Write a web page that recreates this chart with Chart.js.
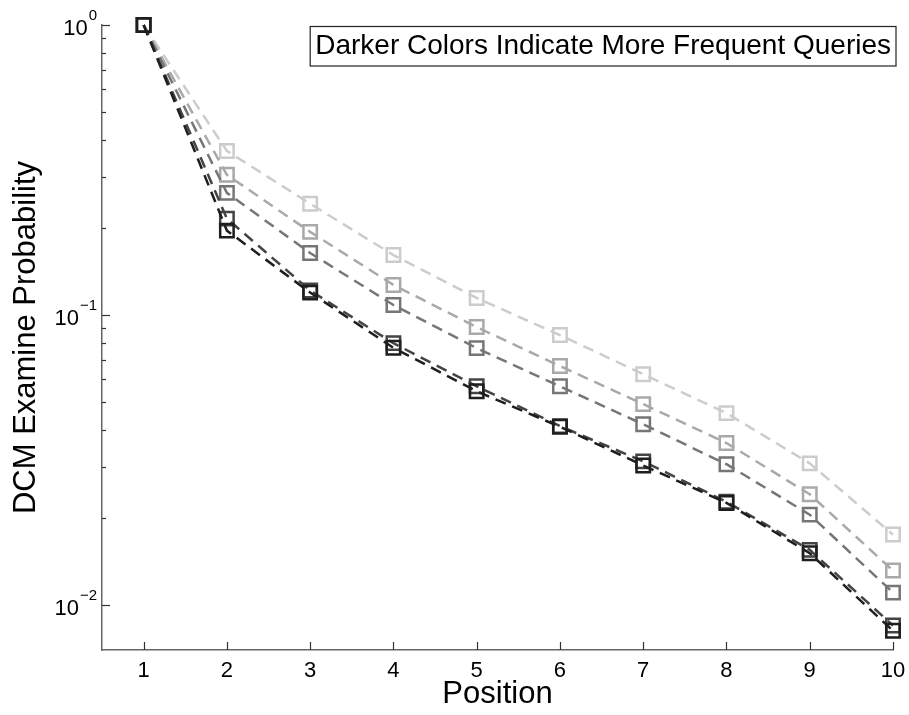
<!DOCTYPE html>
<html>
<head>
<meta charset="utf-8">
<script src="https://cdn.jsdelivr.net/npm/chart.js@4.4.1/dist/chart.umd.min.js"></script>
<style>
  html, body { margin: 0; padding: 0; background: #fff; }
  #wrap { width: 909px; height: 715px; }
</style>
</head>
<body>
<div id="wrap"><canvas id="dcmChart" width="909" height="715"></canvas></div>
<script>
// positions on the x axis
const positions = [1, 2, 3, 4, 5, 6, 7, 8, 9, 10];

// examine probabilities, lightest (rare queries) to darkest (frequent queries)
const lightest = [1, 0.368, 0.242, 0.161, 0.1145, 0.0853, 0.0625, 0.0459, 0.0308, 0.0175];
const light    = [1, 0.3045, 0.1935, 0.127, 0.0909, 0.0667, 0.0493, 0.0362, 0.0241, 0.01315];
const middle   = [1, 0.2638, 0.1637, 0.1083, 0.0769, 0.0568, 0.042, 0.0306, 0.0205, 0.01104];
const dark     = [1, 0.215, 0.1215, 0.0800, 0.0568, 0.0414, 0.0313, 0.0227, 0.0155, 0.0085];
const darkest  = [1, 0.1955, 0.1195, 0.0771, 0.0546, 0.0412, 0.0303, 0.0225, 0.0151, 0.00815];

const seriesColors = ['#1e1e1e', '#444444', '#767676', '#a9a9a9', '#cccccc'];
const seriesValues = [darkest, dark, middle, light, lightest];

// y tick decades (10^exp)
const yTickExps = [0, -1, -2];
const noteText = 'Darker Colors Indicate More Frequent Queries';

const fontFam = '"Liberation Sans", Arial, Helvetica, sans-serif';

const datasets = seriesValues.map((vals, i) => ({
    data: vals.map((v, j) => ({ x: positions[j], y: v })),
    borderColor: seriesColors[i],
    backgroundColor: 'rgba(0,0,0,0)',
    borderWidth: 2.5,
    borderDash: [11, 7],
    pointStyle: 'rect',
    pointRadius: 9.5,
    pointBorderWidth: 2.5,
    pointBorderColor: seriesColors[i],
    pointBackgroundColor: 'rgba(0,0,0,0)',
    fill: false,
    clip: false,
    tension: 0
}));

const axisDecor = {
    id: 'axisDecor',
    afterDraw(chart) {
        const ctx = chart.ctx;
        const xs = chart.scales.x;
        const ys = chart.scales.y;
        const area = chart.chartArea;
        ctx.save();
        ctx.strokeStyle = '#333';
        ctx.lineWidth = 1.2;
        // x ticks, pointing inward
        positions.forEach(p => {
            const px = Math.round(xs.getPixelForValue(p)) + 0.5;
            ctx.beginPath();
            ctx.moveTo(px, area.bottom);
            ctx.lineTo(px, area.bottom - 8);
            ctx.stroke();
        });
        // y ticks, major and minor
        yTickExps.forEach(e => {
            const base = Math.pow(10, e);
            for (let m = 1; m <= 9; m++) {
                const v = base * m;
                if (v > ys.max + 1e-9 || v < ys.min) continue;
                const py = Math.round(ys.getPixelForValue(v)) + 0.5;
                ctx.beginPath();
                ctx.moveTo(area.left, py);
                ctx.lineTo(area.left + (m === 1 ? 8 : 4), py);
                ctx.stroke();
            }
        });
        // y tick labels as 10 with superscript exponent
        ctx.fillStyle = '#000';
        ctx.textBaseline = 'alphabetic';
        yTickExps.forEach(e => {
            const py = ys.getPixelForValue(Math.pow(10, e));
            const sup = e === 0 ? '0' : '\u2212' + Math.abs(e);
            ctx.font = '15px ' + fontFam;
            const supW = ctx.measureText(sup).width;
            const right = area.left - 5;
            ctx.textAlign = 'left';
            ctx.fillText(sup, right - supW, py - 5);
            ctx.font = '22px ' + fontFam;
            ctx.textAlign = 'right';
            ctx.fillText('10', right - supW - 1, py + 10);
        });
        // note box
        ctx.font = '28px ' + fontFam;
        const tw = ctx.measureText(noteText).width;
        const bx = area.right + 3 - tw - 10;
        const by = 26.5;
        ctx.fillStyle = '#fff';
        ctx.fillRect(bx, by, tw + 10, 39.5);
        ctx.strokeStyle = '#222';
        ctx.lineWidth = 1.2;
        ctx.strokeRect(bx, by, tw + 10, 39.5);
        ctx.fillStyle = '#000';
        ctx.textAlign = 'left';
        ctx.textBaseline = 'middle';
        ctx.fillText(noteText, bx + 5, by + 20);
        ctx.restore();
    }
};

new Chart(document.getElementById('dcmChart'), {
    type: 'line',
    data: { datasets: datasets },
    options: {
        responsive: false,
        animation: false,
        layout: { padding: { top: 25, right: 0, left: 0, bottom: 0 } },
        plugins: { legend: { display: false }, tooltip: { enabled: false } },
        scales: {
            x: {
                type: 'linear',
                min: 0.5,
                max: 10,
                afterBuildTicks: s => { s.ticks = positions.map(p => ({ value: p })); },
                afterFit: s => { s.height = 65; s.paddingRight = 16; s.paddingLeft = 0; },
                grid: { display: false, drawTicks: false },
                border: { display: true, color: '#666', width: 1.5 },
                ticks: { color: '#000', padding: 8, font: { size: 22, family: fontFam }, maxRotation: 0, autoSkip: false },
                title: { display: true, text: 'Position', color: '#000', font: { size: 31, family: fontFam }, padding: { top: 0, bottom: 2 } }
            },
            y: {
                type: 'logarithmic',
                min: 0.007,
                max: 1,
                afterFit: s => { s.width = 102; },
                grid: { display: false, drawTicks: false },
                border: { display: true, color: '#666', width: 1.5 },
                ticks: { display: false },
                title: { display: true, text: 'DCM Examine Probability', color: '#000', font: { size: 31, family: fontFam }, padding: { top: 8, bottom: 0 } }
            }
        }
    },
    plugins: [axisDecor]
});
</script>
</body>
</html>
